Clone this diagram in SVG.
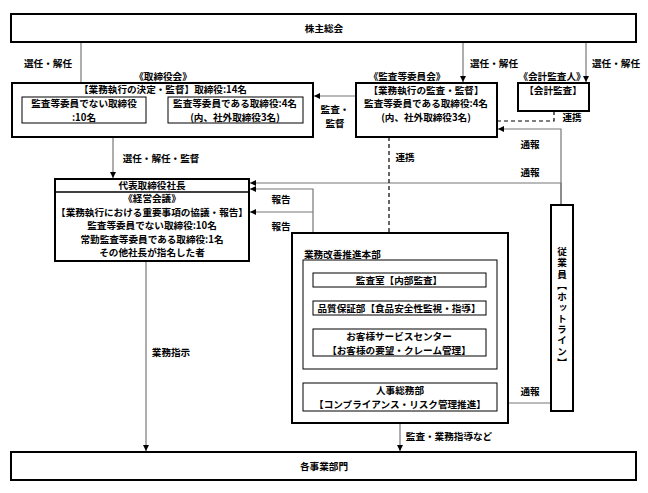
<svg xmlns="http://www.w3.org/2000/svg" width="648" height="493" viewBox="0 0 648 493">
<defs>
<marker id="ah" viewBox="0 0 6 6" refX="6" refY="3" markerWidth="6" markerHeight="6" markerUnits="userSpaceOnUse" orient="auto">
<path d="M0,0 L6,3 L0,6 Z" fill="#000"/>
</marker>
<style>
text{font-family:"Noto Sans CJK JP","Noto Sans CJK SC",sans-serif;font-size:9.6px;font-weight:bold;fill:#000;text-anchor:middle;dominant-baseline:central}
.l{text-anchor:start}
.big{fill:#fff;stroke:#000;stroke-width:2}
.sm{fill:#fff;stroke:#000;stroke-width:1}
.c{fill:none;stroke:#777;stroke-width:1.2}
.a{marker-end:url(#ah)}
.d{fill:none;stroke:#000;stroke-width:1.2;stroke-dasharray:4,3}
</style>
</defs>
<rect width="648" height="493" fill="#fff"/>
<g id="connectors">
<line class="c a" x1="81" y1="42" x2="81" y2="96"/>
<line class="c a" x1="463" y1="42" x2="463" y2="82"/>
<line class="c a" x1="586" y1="42" x2="586" y2="82"/>
<line class="c a" x1="356" y1="96" x2="314" y2="96"/>
<polyline class="d" points="554,111 554,121 498,121"/>
<polyline class="c a" points="561,205 561,129 498,129"/>
<polyline class="c a" points="561,205 561,183 250,183"/>
<polyline class="c a" points="313,233 313,189 250,189"/>
<line class="c a" x1="313" y1="212" x2="250" y2="212"/>
<line class="d" x1="389" y1="137" x2="389" y2="260"/>
<line class="c a" x1="113" y1="137" x2="113" y2="178"/>
<line class="c a" x1="146" y1="261" x2="146" y2="451"/>
<line class="c a" x1="400" y1="423" x2="400" y2="451"/>
<line class="c a" x1="551" y1="403" x2="498" y2="403"/>
<text x="48" y="63">選任・解任</text>
<text x="494" y="63">選任・解任</text>
<text x="616" y="63">選任・解任</text>
<text x="335" y="108.5">監査・</text>
<text x="335" y="123">監督</text>
<text x="572" y="117">連携</text>
<text x="405" y="157">連携</text>
<text x="530" y="144">通報</text>
<text x="530" y="172">通報</text>
<text x="161" y="158">選任・解任・監督</text>
<text x="281" y="199">報告</text>
<text x="281" y="226">報告</text>
<text x="171" y="352">業務指示</text>
<text x="530" y="391">通報</text>
<text x="449" y="436">監査・業務指導など</text>
</g>
<g id="shareholders">
<rect class="big" x="11" y="14" width="625" height="28"/>
<text x="324" y="28">株主総会</text>
</g>
<g id="board">
<text x="163" y="76">《取締役会》</text>
<rect class="big" x="12" y="83" width="301" height="54"/>
<text x="163" y="89">【業務執行の決定・監督】取締役:14名</text>
<rect class="sm" x="22" y="97" width="124" height="26"/>
<text x="84" y="103">監査等委員でない取締役</text>
<text x="84" y="117">:10名</text>
<rect class="sm" x="168" y="97" width="135" height="26"/>
<text x="235" y="103">監査等委員である取締役:4名</text>
<text x="235" y="117">(内、社外取締役3名)</text>
</g>
<g id="audit-committee">
<text x="407" y="76">《監査等委員会》</text>
<rect class="big" x="356" y="83" width="141" height="54"/>
<text x="426" y="90">【業務執行の監査・監督】</text>
<text x="426" y="103">監査等委員である取締役:4名</text>
<text x="426" y="117">(内、社外取締役3名)</text>
</g>
<g id="accounting-auditor">
<text x="552" y="76">《会計監査人》</text>
<rect class="big" x="518" y="83" width="71" height="28"/>
<text x="553" y="90">【会計監査】</text>
</g>
<g id="president">
<rect class="big" x="55" y="179" width="194" height="82"/>
<line x1="55" y1="192" x2="249" y2="192" stroke="#000" stroke-width="1.5"/>
<text x="152" y="185">代表取締役社長</text>
<text x="152" y="198">《経営会議》</text>
<text x="152" y="212">【業務執行における重要事項の協議・報告】</text>
<text x="152" y="225">監査等委員でない取締役:10名</text>
<text x="152" y="239">常勤監査等委員である取締役:1名</text>
<text x="152" y="252">その他社長が指名した者</text>
</g>
<g id="improvement-hq">
<rect class="big" x="292" y="233" width="216" height="190"/>
<text class="l" x="304" y="254">業務改善推進本部</text>
<rect class="sm" x="303" y="260" width="194" height="109"/>
</g>
<g id="audit-office">
<rect class="sm" x="313" y="273" width="173" height="14"/>
<text x="399" y="280">監査室【内部監査】</text>
</g>
<g id="quality">
<rect class="sm" x="313" y="301" width="173" height="14"/>
<text x="399" y="308">品質保証部【食品安全性監視・指導】</text>
</g>
<g id="customer-service">
<rect class="sm" x="313" y="329" width="173" height="27"/>
<text x="399" y="335.5">お客様サービスセンター</text>
<text x="399" y="349.5">【お客様の要望・クレーム管理】</text>
</g>
<g id="hr">
<rect class="sm" x="303" y="383" width="194" height="28"/>
<text x="400" y="389.5">人事総務部</text>
<text x="400" y="404">【コンプライアンス・リスク管理推進】</text>
</g>
<g id="hotline">
<rect class="big" x="551" y="205" width="22" height="206"/>
<text x="562" y="308" style="writing-mode:vertical-rl;letter-spacing:1.5px">従業員【ホットライン】</text>
</g>
<g id="divisions">
<rect class="big" x="11" y="452" width="625" height="28"/>
<text x="324" y="466">各事業部門</text>
</g>
</svg>
